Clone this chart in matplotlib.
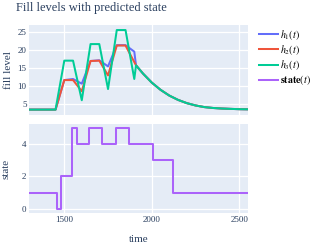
import matplotlib
matplotlib.use("Agg")
import matplotlib.pyplot as plt

# ---- data ----
t_rise = [1300, 1450, 1500, 1550, 1600, 1650, 1700, 1750, 1800, 1850, 1900]
h1_rise = [3.5, 3.5, 11.7, 12.0, 10.7, 17.0, 17.2, 15.5, 21.4, 21.4, 19.6]
h2_rise = [3.5, 3.5, 11.7, 11.7, 8.6, 17.0, 17.1, 13.0, 21.3, 21.3, 16.7]
h3_rise = [3.5, 3.5, 17.1, 17.1, 6.1, 21.7, 21.7, 9.2, 25.6, 25.6, 12.0]

t_decay = [1910, 1950, 2000, 2050, 2100, 2150, 2200, 2250, 2300, 2350, 2400, 2450, 2500, 2550]
h_decay = [15.8, 13.5, 11.0, 9.0, 7.4, 6.2, 5.3, 4.65, 4.2, 3.95, 3.8, 3.7, 3.62, 3.58]

state_t = [1300, 1460, 1480, 1545, 1570, 1643, 1717, 1793, 1868, 2005, 2123, 2550]
state_v = [1, 0, 2, 5, 4, 5, 4, 5, 4, 3, 1, 1]

labels = [r"$h_1(t)$", r"$h_2(t)$", r"$h_3(t)$", r"$\mathbf{state}(t)$"]
colors = ["#636EFA", "#EF553B", "#00CC96", "#AB63FA"]

t_all = t_rise + t_decay
series = [h1_rise + h_decay, h2_rise + h_decay, h3_rise + h_decay]

plt.rcParams["font.family"] = ["Liberation Serif", "DejaVu Serif"]
plt.rcParams["mathtext.fontset"] = "stix"

W, H = 313, 244
fig = plt.figure(figsize=(W / 100, H / 100), dpi=100)
bg = "#E5ECF6"
txt = "#2a3f5f"

def px_axes(l, t, r, b):
    return fig.add_axes([l / W, 1 - b / H, (r - l) / W, (b - t) / H])

ax1 = px_axes(29.3, 25, 248, 115)
ax2 = px_axes(29.3, 124, 248, 213.3)

for ax in (ax1, ax2):
    ax.set_facecolor(bg)
    for s in ax.spines.values():
        s.set_visible(False)
    ax.grid(True, color="white", linewidth=0.9)
    ax.set_axisbelow(True)
    ax.tick_params(length=0, labelsize=6.5, colors=txt, pad=2)
    ax.set_xlim(1300, 2550)
    ax.set_xticks([1500, 2000, 2500])

lines = []
for y, c, lab in zip(series, colors, labels):
    ln, = ax1.plot(t_all, y, color=c, linewidth=1.45, label=lab)
    lines.append(ln)
ax1.set_ylim(2.0, 27.0)
ax1.set_yticks([5, 10, 15, 20, 25])
ax1.set_xticklabels([])
ax1.set_ylabel("fill level", fontsize=8, color=txt, labelpad=3)

ln4, = ax2.plot(state_t, state_v, color=colors[3], linewidth=1.45,
                drawstyle="steps-post", label=labels[3])
lines.append(ln4)
ax2.set_ylim(-0.29, 5.26)
ax2.set_yticks([0, 2, 4])
ax2.set_xlabel("time", fontsize=8, color=txt, labelpad=8)
ax2.set_ylabel("state", fontsize=8, color=txt, labelpad=8)

fig.text(16 / W, 1 - 8 / H, "Fill levels with predicted state", fontsize=9,
         color=txt, ha="left", va="center")

fig.legend(handles=lines, labels=labels, loc="upper left",
           bbox_to_anchor=(258.5 / W, 1 - 28 / H), frameon=False,
           fontsize=7.2, handlelength=1.9, handletextpad=0.3,
           labelspacing=0.12, borderaxespad=0, borderpad=0)

fig.savefig("out.png", dpi=100)
